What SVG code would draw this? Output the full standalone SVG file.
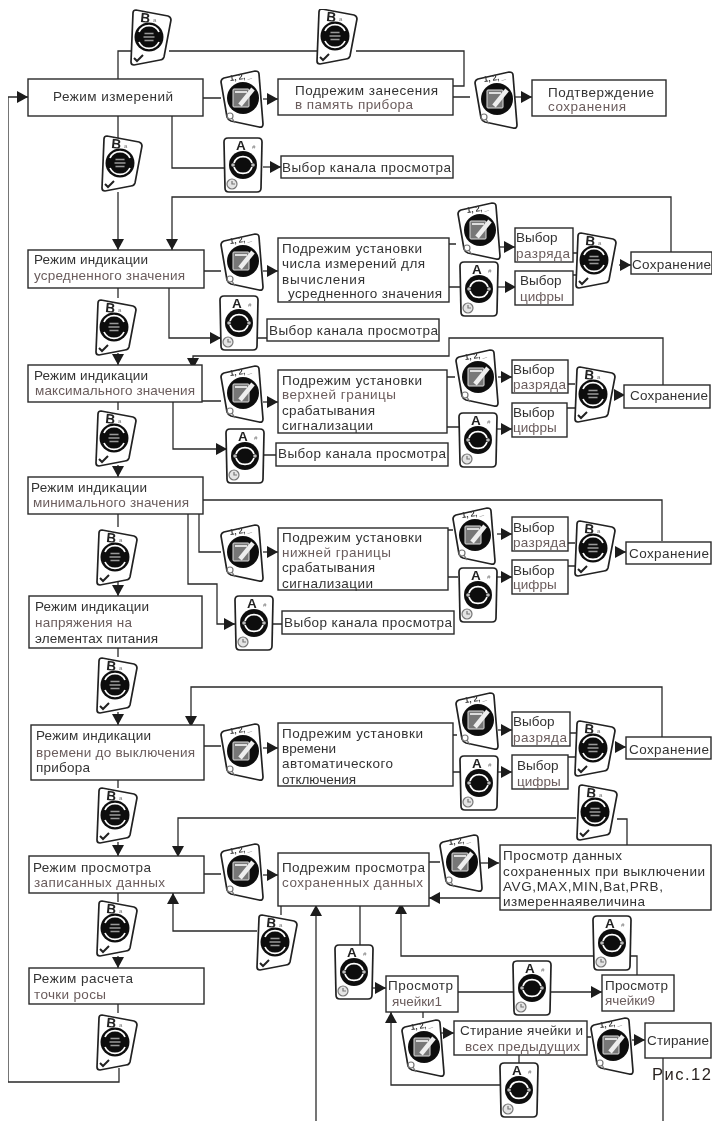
<svg xmlns="http://www.w3.org/2000/svg" width="713" height="1121" viewBox="0 0 713 1121">
<style>
.c{fill:none;stroke:#2a2a2a;stroke-width:1.3}
.a{marker-end:url(#h)}
rect.b{fill:#fff;stroke:#2a2a2a;stroke-width:1.4}
text{font-family:"Liberation Sans",Arial,sans-serif;font-size:13.5px;fill:#333}
text.g{fill:#6a5c5c}
.card{fill:#fff;stroke:#222;stroke-width:1.7}
text.k{font-weight:bold;font-size:13.5px;fill:#222}
text.s{font-size:6px;fill:#777}
text.n{font-weight:bold;font-size:8px;fill:#333}
.w{fill:none;stroke:#fff;stroke-width:1.7}
.q{fill:none;stroke:#777;stroke-width:1.2}
</style>
<defs>
<filter id="soft" x="0" y="0" width="1" height="1"><feGaussianBlur stdDeviation="0.3"/></filter>
<marker id="h" markerUnits="userSpaceOnUse" markerWidth="13" markerHeight="13" refX="11" refY="6.5" orient="auto"><path d="M0,0.5 L11,6.5 L0,12.5 Z" fill="#1a1a1a"/></marker>
<g id="B">
<path class="card" d="M-16,-24 Q-16,-27 -13,-27 L19,-21 Q22,-20 22,-17 L15,20 Q14,23 11,23 L-15,28 Q-18,28 -18,25 Z"/>
<circle r="14.5" fill="#111"/>
<text class="k" x="-9" y="-15" transform="rotate(6 -9 -15)">B</text><text class="s" x="4" y="-15">a</text>
<path class="w" d="M-10,-5 A11,11 0 0 1 10,-5 M-10,5 A11,11 0 0 0 10,5"/>
<path d="M-4.5,-3.5 H4.5 M-5.5,0 H5.5 M-4.5,3.5 H4.5" stroke="#999" stroke-width="1.6" fill="none"/>
<path d="M-15,21 L-12,24 L-6,18" fill="none" stroke="#222" stroke-width="2"/>
</g>
<g id="Z">
<path class="card" d="M-22,-16 Q-22,-19 -19,-20 L12,-27 Q16,-27 16,-24 L20,26 Q20,30 16,29 L-12,23 Q-15,22 -16,19 Z"/>
<circle r="16" fill="#111"/>
<text class="n" x="-13" y="-17" transform="rotate(-8 -13 -17)">1, 2, _</text>
<rect x="-10" y="-9" width="16" height="18" rx="1" fill="#777" stroke="#ddd" stroke-width="1"/>
<path d="M-8,-6 H4" stroke="#fff" stroke-width="1.5"/>
<path d="M-3,7 L10,-9" stroke="#eee" stroke-width="4.5"/>
<circle class="q" cx="-13" cy="18" r="3"/><path class="q" d="M-11,20 L-8,25"/>
</g>
<g id="A">
<path class="card" d="M-19,-23 Q-19,-27 -15,-27 H15 Q19,-27 19,-23 L18,23 Q18,27 14,27 H-14 Q-18,27 -18,23 Z"/>
<circle r="14" fill="#111"/>
<text class="k" x="-7" y="-15.500">A</text><text class="s" x="9" y="-16" font-style="italic">#</text>
<path class="w" d="M-9,-2 A9.500,9.500 0 0 1 9,-2 M9,2 A9.500,9.500 0 0 1 -9,2" stroke-width="2.400"/>
<circle cx="-10" r="1.800" fill="#bbb"/><circle cx="10" r="1.800" fill="#bbb"/>
<circle cx="-11" cy="19" r="5" fill="#e4e4e4" stroke="#777" stroke-width="1.200"/>
<path class="q" d="M-11,16 V19 H-8"/>
</g>
</defs>
<rect width="713" height="1121" fill="#fff"/>
<g filter="url(#soft)">
<g id="connectors">
<path class="c" d="M118,79 V51 H131 M169,51 H318 M356,51 H464 V86 H453 M453,97 H470 M203,98 H221 M118,116 V138 M172,116 V168 H225"/>
<path class="c a" d="M263,99 H278"/><path class="c a" d="M513,97 H532"/><path class="c a" d="M118,192 V250"/><path class="c a" d="M263,167 H281"/>
<path class="c a" d="M671,252 V197 H172 V250" stroke-width="1.6"/>
<path class="c" d="M204,271 H221 M449,244 H456 M449,287 H460 M573,253 H580 M573,275 H578 M118,288 V298 M257,338 H267"/>
<path class="c a" d="M263,271 H278"/><path class="c a" d="M498,247 H515"/><path class="c a" d="M497,287 H516"/><path class="c a" d="M619,265 H631"/><path class="c a" d="M118,353 V365"/><path class="c a" d="M169,288 V338 H221"/>
<path class="c" d="M118,402 V410 M264,455 H276 M202,401 H221 M447,377 H455 M447,427 H460 M568,384 H575 M567,408 H575"/>
<path class="c a" d="M118,465 V477"/><path class="c a" d="M173,402 V449 H227"/><path class="c a" d="M263,402 H278"/><path class="c a" d="M663,385 V338 H449 V356 H193 V369"/><path class="c a" d="M498,377 H512"/><path class="c a" d="M497,429 H512"/><path class="c a" d="M615,395 H625"/>
<path class="c" d="M118,514 V527 M199,514 V552 H221 M273,624 H282 M662,541 V500 H203 M448,530 H453 M448,577 H458 M568,543 H575 M568,566 H575 M118,648 V657"/>
<path class="c a" d="M118,582 V596"/><path class="c a" d="M263,552 H278"/><path class="c a" d="M188,514 V584 H217 V624 H235"/><path class="c a" d="M497,534 H512"/><path class="c a" d="M497,577 H512"/><path class="c a" d="M617,552 H626"/><path class="c a" d="M118,712 V725"/>
<path class="c" d="M204,746 H221 M453,735 H457 M453,772 H460 M570,733 H577 M568,757 H575 M118,780 V788"/>
<path class="c a" d="M662,737 V687 H191 V727"/><path class="c a" d="M263,748 H278"/><path class="c a" d="M498,730 H512"/><path class="c a" d="M498,772 H512"/><path class="c a" d="M616,747 H626"/><path class="c a" d="M118,842 V856"/>
<path class="c" d="M118,893 V902 M118,1004 V1013 M627,845 V819 H617 M204,874 H221 M429,862 H440 M281,906 V915 M360,906 V945 M458,992 H513 M637,975 V956 H631 M423,1012 V1018 M587,1037 H591 M519,1055 V1063 M663,1058 V1121"/>
<path class="c a" d="M118,956 V968"/><path class="c a" d="M119,1068 V1082 H8 V97 H28" stroke-width="1.6"/><path class="c a" d="M576,818 H178 V857"/><path class="c a" d="M263,875 H278"/><path class="c a" d="M480,863 H499"/><path class="c a" d="M500,898 H429"/><path class="c a" d="M257,931 H173 V893"/><path class="c a" d="M316,1121 V905"/><path class="c a" d="M373,988 H386"/><path class="c a" d="M551,992 H602"/><path class="c a" d="M593,956 H401 V903"/><path class="c a" d="M441,1033 H454"/><path class="c a" d="M632,1040 H645"/><path class="c a" d="M500,1085 H391 V1012"/>
</g>

<g id="n-measure"><rect class="b" x="28" y="79" width="175" height="37"/><text x="53" y="101" textLength="120">Режим измерений</text></g>
<g id="n-store"><rect class="b" x="278" y="79" width="175" height="36"/><text x="295" y="95" textLength="143">Подрежим занесения</text><text class="g" x="295" y="109" textLength="118">в память прибора</text></g>
<g id="n-confirm"><rect class="b" x="532" y="80" width="134" height="36"/><text x="548" y="97" textLength="106">Подтверждение</text><text class="g" x="548" y="111" textLength="78">сохранения</text></g>
<g id="n-chan1"><rect class="b" x="281" y="156" width="172" height="22"/><text x="282" y="172" textLength="169">Выбор канала просмотра</text></g>

<g id="n-avg"><rect class="b" x="28" y="250" width="176" height="38"/><text x="34" y="264" textLength="114">Режим индикации</text><text class="g" x="34" y="280" textLength="151">усредненного значения</text></g>
<g id="n-avgset"><rect class="b" x="278" y="238" width="171" height="64"/><text x="282" y="253" textLength="140">Подрежим установки</text><text x="282" y="268" textLength="143">числа измерений для</text><text x="282" y="284" textLength="83">вычисления</text><text x="288" y="298" textLength="154">усредненного значения</text></g>
<g id="n-dig1"><rect class="b" x="515" y="228" width="58" height="34"/><text x="516" y="242">Выбор</text><text class="g" x="516" y="258" textLength="54">разряда</text></g>
<g id="n-num1"><rect class="b" x="515" y="271" width="58" height="34"/><text x="520" y="285">Выбор</text><text class="g" x="520" y="301">цифры</text></g>
<g id="n-save1"><rect class="b" x="631" y="252" width="81" height="22"/><text x="632" y="269" textLength="79">Сохранение</text></g>
<g id="n-chan2"><rect class="b" x="267" y="319" width="172" height="22"/><text x="269" y="335" textLength="169">Выбор канала просмотра</text></g>

<g id="n-max"><rect class="b" x="28" y="365" width="174" height="37"/><text x="34" y="380" textLength="114">Режим индикации</text><text class="g" x="35" y="395" textLength="160">максимального значения</text></g>
<g id="n-maxset"><rect class="b" x="278" y="370" width="169" height="63"/><text x="282" y="385" textLength="140">Подрежим установки</text><text class="g" x="282" y="399" textLength="114">верхней границы</text><text x="282" y="415" textLength="93">срабатывания</text><text x="282" y="430" textLength="91">сигнализации</text></g>
<g id="n-dig2"><rect class="b" x="512" y="360" width="56" height="33"/><text x="513" y="374">Выбор</text><text class="g" x="513" y="389" textLength="53">разряда</text></g>
<g id="n-num2"><rect class="b" x="512" y="403" width="55" height="34"/><text x="513" y="417">Выбор</text><text class="g" x="513" y="432">цифры</text></g>
<g id="n-save2"><rect class="b" x="624" y="385" width="86" height="23"/><text x="630" y="400" textLength="78">Сохранение</text></g>
<g id="n-chan3"><rect class="b" x="276" y="443" width="172" height="23"/><text x="278" y="458" textLength="168">Выбор канала просмотра</text></g>

<g id="n-min"><rect class="b" x="28" y="477" width="175" height="37"/><text x="31" y="492" textLength="116">Режим индикации</text><text class="g" x="33" y="507" textLength="156">минимального значения</text></g>
<g id="n-minset"><rect class="b" x="278" y="528" width="170" height="62"/><text x="282" y="542" textLength="140">Подрежим установки</text><text class="g" x="282" y="557" textLength="109">нижней границы</text><text x="282" y="572" textLength="93">срабатывания</text><text x="282" y="588" textLength="91">сигнализации</text></g>
<g id="n-dig3"><rect class="b" x="512" y="517" width="56" height="34"/><text x="513" y="532">Выбор</text><text class="g" x="513" y="547" textLength="53">разряда</text></g>
<g id="n-num3"><rect class="b" x="512" y="560" width="56" height="34"/><text x="513" y="575">Выбор</text><text class="g" x="513" y="589">цифры</text></g>
<g id="n-save3"><rect class="b" x="626" y="542" width="85" height="22"/><text x="629" y="558" textLength="80">Сохранение</text></g>
<g id="n-chan4"><rect class="b" x="282" y="611" width="172" height="23"/><text x="284" y="627" textLength="168">Выбор канала просмотра</text></g>

<g id="n-volt"><rect class="b" x="29" y="596" width="173" height="52"/><text x="35" y="611" textLength="114">Режим индикации</text><text class="g" x="35" y="627" textLength="97">напряжения на</text><text x="35" y="643" textLength="123">элементах питания</text></g>
<g id="n-time"><rect class="b" x="31" y="725" width="173" height="55"/><text x="36" y="740" textLength="115">Режим индикации</text><text class="g" x="36" y="757" textLength="159">времени до выключения</text><text x="36" y="772" textLength="54">прибора</text></g>
<g id="n-timeset"><rect class="b" x="278" y="723" width="175" height="63"/><text x="282" y="738" textLength="141">Подрежим установки</text><text x="282" y="753">времени</text><text x="282" y="768" textLength="111">автоматического</text><text x="282" y="784">отключения</text></g>
<g id="n-dig4"><rect class="b" x="512" y="712" width="58" height="34"/><text x="513" y="726">Выбор</text><text class="g" x="513" y="742" textLength="54">разряда</text></g>
<g id="n-num4"><rect class="b" x="512" y="755" width="56" height="34"/><text x="517" y="770">Выбор</text><text class="g" x="517" y="786">цифры</text></g>
<g id="n-save4"><rect class="b" x="626" y="737" width="85" height="22"/><text x="629" y="754" textLength="80">Сохранение</text></g>

<g id="n-view"><rect class="b" x="29" y="856" width="175" height="37"/><text x="33" y="872" textLength="118">Режим просмотра</text><text class="g" x="34" y="887" textLength="131">записанных данных</text></g>
<g id="n-viewsub"><rect class="b" x="278" y="853" width="151" height="53"/><text x="282" y="872" textLength="143">Подрежим просмотра</text><text class="g" x="282" y="887" textLength="141">сохраненных данных</text></g>
<g id="n-viewdata"><rect class="b" x="500" y="845" width="211" height="65"/><text x="503" y="860" textLength="119">Просмотр данных</text><text x="503" y="876" textLength="202">сохраненных при выключении</text><text x="503" y="891" textLength="160">AVG,MAX,MIN,Bat,PRB,</text><text x="503" y="906" textLength="142">измереннаявеличина</text></g>
<g id="n-dew"><rect class="b" x="29" y="968" width="175" height="36"/><text x="33" y="983" textLength="100">Режим расчета</text><text class="g" x="34" y="999" textLength="72">точки росы</text></g>
<g id="n-cell1"><rect class="b" x="386" y="976" width="72" height="36"/><text x="388" y="990" textLength="65">Просмотр</text><text class="g" x="392" y="1006" textLength="50">ячейки1</text></g>
<g id="n-cell9"><rect class="b" x="602" y="975" width="72" height="36"/><text x="605" y="990" textLength="63">Просмотр</text><text class="g" x="605" y="1005" textLength="50">ячейки9</text></g>
<g id="n-erase"><rect class="b" x="454" y="1021" width="133" height="34"/><text x="460" y="1035" textLength="123">Стирание ячейки и</text><text class="g" x="465" y="1051" textLength="115">всех предыдущих</text></g>
<g id="n-erased"><rect class="b" x="645" y="1023" width="66" height="35"/><text x="647" y="1045" textLength="62">Стирание</text></g>

<g id="btn-b1"><use href="#B" x="149" y="37"/></g>
<g id="btn-b2"><use href="#B" x="335" y="36"/></g>
<g id="btn-b3"><use href="#B" x="120" y="163"/></g>
<g id="btn-b4"><use href="#B" x="114" y="327"/></g>
<g id="btn-b5"><use href="#B" x="114" y="438"/></g>
<g id="btn-b6"><use href="#B" x="115" y="557"/></g>
<g id="btn-b7"><use href="#B" x="115" y="685"/></g>
<g id="btn-b8"><use href="#B" x="115" y="815"/></g>
<g id="btn-b9"><use href="#B" x="115" y="928"/></g>
<g id="btn-b10"><use href="#B" x="115" y="1042"/></g>
<g id="btn-b11"><use href="#B" x="275" y="942"/></g>
<g id="btn-b12"><use href="#B" x="594" y="260"/></g>
<g id="btn-b13"><use href="#B" x="593" y="394"/></g>
<g id="btn-b14"><use href="#B" x="593" y="548"/></g>
<g id="btn-b15"><use href="#B" x="593" y="748"/></g>
<g id="btn-b16"><use href="#B" x="595" y="812"/></g>

<g id="btn-z1"><use href="#Z" x="243" y="98"/></g>
<g id="btn-z2"><use href="#Z" x="497" y="99"/></g>
<g id="btn-z3"><use href="#Z" x="243" y="261"/></g>
<g id="btn-z4"><use href="#Z" x="480" y="230"/></g>
<g id="btn-z5"><use href="#Z" x="243" y="393"/></g>
<g id="btn-z6"><use href="#Z" x="478" y="377"/></g>
<g id="btn-z7"><use href="#Z" x="243" y="552"/></g>
<g id="btn-z8"><use href="#Z" x="475" y="535"/></g>
<g id="btn-z9"><use href="#Z" x="243" y="751"/></g>
<g id="btn-z10"><use href="#Z" x="478" y="720"/></g>
<g id="btn-z11"><use href="#Z" x="243" y="871"/></g>
<g id="btn-z12"><use href="#Z" x="462" y="862"/></g>
<g id="btn-z13"><use href="#Z" x="424" y="1047"/></g>
<g id="btn-z14"><use href="#Z" x="613" y="1045"/></g>

<g id="btn-a1"><use href="#A" x="243" y="165"/></g>
<g id="btn-a2"><use href="#A" x="479" y="289"/></g>
<g id="btn-a3"><use href="#A" x="239" y="323"/></g>
<g id="btn-a4"><use href="#A" x="478" y="440"/></g>
<g id="btn-a5"><use href="#A" x="245" y="456"/></g>
<g id="btn-a6"><use href="#A" x="478" y="595"/></g>
<g id="btn-a7"><use href="#A" x="254" y="623"/></g>
<g id="btn-a8"><use href="#A" x="479" y="783"/></g>
<g id="btn-a9"><use href="#A" x="354" y="972"/></g>
<g id="btn-a10"><use href="#A" x="532" y="988"/></g>
<g id="btn-a11"><use href="#A" x="612" y="943"/></g>
<g id="btn-a12"><use href="#A" x="519" y="1090"/></g>

<g id="caption"><text x="652" y="1080" textLength="59" style="font-size:16.5px;fill:#2a2320">Рис.12</text></g>
</g>
</svg>
